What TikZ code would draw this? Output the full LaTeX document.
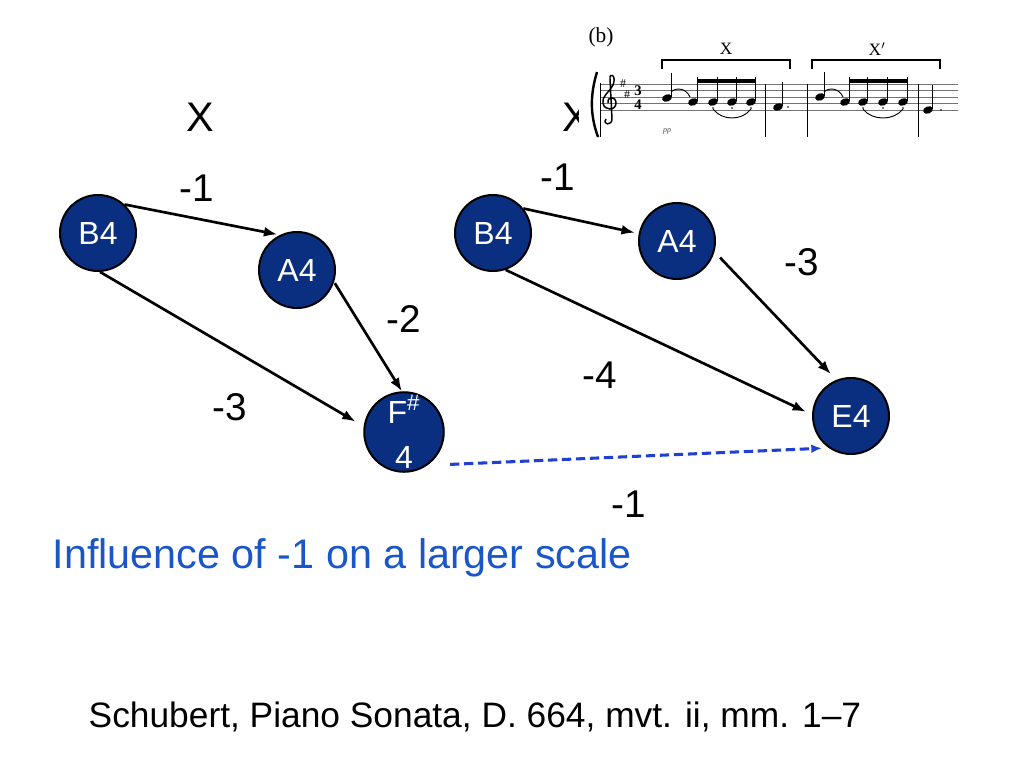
\documentclass[tikz,border=0pt]{standalone}
\usepackage{fontspec}
\setmainfont{Liberation Sans}
\newfontfamily\scorefont{Liberation Serif}
\usepackage{xcolor}
\usetikzlibrary{arrows.meta}
\definecolor{NoteBlue}{HTML}{0A2F80}
\definecolor{LinkBlue}{HTML}{2040D0}
\definecolor{TitleBlue}{HTML}{1A56C8}

\begin{document}
\begin{tikzpicture}[x=0.75pt, y=-0.75pt,
    pitch/.style={circle, fill=NoteBlue, draw=black, line width=1.5pt,
                  minimum size=57pt, inner sep=0pt, text=white,
                  font=\fontsize{24}{34}\selectfont, align=center},
    link/.style={line width=2pt, -{Latex[length=10pt,width=7.5pt]}},
    farlink/.style={LinkBlue, line width=2.3pt, dash pattern=on 7pt off 3.5pt,
                    -{Latex[length=8pt,width=6.5pt]}},
    step lbl/.style={font=\fontsize{29}{34}\selectfont},
    stafftxt/.style={font=\scorefont\fontsize{13}{15}\selectfont}]
  \useasboundingbox (0,0) rectangle (1024,768);

  % section labels
  \node[font=\fontsize{31}{36}\selectfont] (xa) at (200,117) {X};
  \node[font=\fontsize{31}{36}\selectfont] (xb) at (576,117) {X};

  % first phrase
  \node[pitch] (lB) at (98,233) {B4};
  \node[pitch] (lA) at (297,270) {A4};
  \node[pitch] (lF) at (404,432) {F\textsuperscript{\#}\\4};

  % second phrase
  \node[pitch] (rB) at (493,233) {B4};
  \node[pitch] (rA) at (677,241) {A4};
  \node[pitch] (rE) at (851,416) {E4};

  \draw[link, shorten >=2pt] (lB.47) -- (lA.116);
  \draw[link, shorten >=7pt] (lB.273) -- (lF.172);
  \draw[link, shorten <=1pt] (lA.-18) -- (lF.93);
  \draw[link, shorten >=3pt] (rB.39) -- (rA.169);
  \draw[link, shorten >=5pt] (rB.-71) -- (rE.178);
  \draw[link, shorten <=6pt, shorten >=6pt] (rA.-16) -- (rE.112);
  \draw[farlink, shorten <=17pt, shorten >=5pt] (lF.-55) -- (rE.-125);

  % interval labels
  \node[step lbl] (d1) at (197,188) {-1};
  \node[step lbl] (d2) at (404,319) {-2};
  \node[step lbl] (d3) at (230,407) {-3};
  \node[step lbl] (d4) at (558,177) {-1};
  \node[step lbl] (d5) at (802,262) {-3};
  \node[step lbl] (d6) at (600,375) {-4};
  \node[step lbl] (d7) at (629,504) {-1};

  \node[anchor=west, text=TitleBlue, font=\fontsize{31}{36}\selectfont]
    (title) at (48,558) {Influence of -1 on a larger scale};
  \node[anchor=west, font=\fontsize{26.5}{30}\selectfont]
    (src) at (84,717) {Schubert, Piano Sonata, D. 664, mvt. ii, mm. 1--7};

  % score excerpt
  \fill[white] (579,20) rectangle (962,145);
  \node[font=\scorefont\fontsize{16}{18}\selectfont] (fig) at (601,37) {(b)};
  \node[stafftxt] (bx) at (726,49) {X};
  \node[stafftxt] (bxx) at (877,49) {X$'$};
  \draw[line width=0.8pt] (662,69) -- (662,60) -- (790,60) -- (790,69);
  \draw[line width=0.8pt] (812,69) -- (812,60) -- (940,60) -- (940,69);
  \foreach \yy in {84,90.5,97,103.5,110}
    \draw[black!55, line width=0.6pt] (600,\yy) -- (958,\yy);
  \draw[line width=0.6pt] (600,83) -- (600,137);
  \draw[line width=1.8pt] (597,72) .. controls (590,95) and (590,115) .. (598,137);
  \foreach \bx in {765,807,918}
    \draw[line width=0.6pt] (\bx,84) -- (\bx,137);
  \draw[line width=1.1pt] (606,119) .. controls (602,125) and (612,126) .. (612,119)
    -- (610,79) .. controls (609,72) and (617,75) .. (613,85)
    .. controls (610,92) and (602,95) .. (603,103)
    .. controls (604,111) and (616,111) .. (616,103)
    .. controls (616,96) and (607,96) .. (608,103);
  \node[font=\scorefont\fontsize{9}{9}\selectfont] (sh1) at (623,84) {\#};
  \node[font=\scorefont\fontsize{9}{9}\selectfont] (sh2) at (627,95) {\#};
  \node[font=\scorefont\bfseries\fontsize{11}{11}\selectfont] (t3) at (638,91) {3};
  \node[font=\scorefont\bfseries\fontsize{11}{11}\selectfont] (t4) at (638,105) {4};
  \node[font=\scorefont\itshape\fontsize{6}{6}\selectfont, text=black!70] (dyn) at (667,131) {pp};
  \foreach \nx/\ny in {667/98,693/102,713/102,732/102,751/102,778/107,
                       820/97,845/102,863/102,883/102,903/102,928/110}
    \fill[rotate around={20:(\nx,\ny)}] (\nx,\ny) ellipse [x radius=3.8pt, y radius=2.7pt];
  \foreach \sx/\sy in {671/97,697/101,717/101,736/101,755/101,782/106,
                       824/96,849/101,867/101,887/101,907/101,932/109}
    \draw[line width=0.6pt] (\sx,\sy) -- (\sx,{\sy-24});
  \fill (697,78.5) rectangle (755,82.5);
  \fill (849,78.5) rectangle (907,82.5);
  \draw[line width=0.7pt] (671,92) .. controls (676,87) and (686,88) .. (690,97);
  \draw[line width=0.7pt] (824,92) .. controls (829,87) and (839,88) .. (843,97);
  \draw[line width=0.7pt] (713,109) .. controls (722,121) and (742,121) .. (751,109);
  \draw[line width=0.7pt] (863,109) .. controls (872,121) and (894,121) .. (903,109);
  \foreach \dx/\dy in {788/107,941/110,713/108,732/108,751/108,863/108,883/108,903/108}
    \fill (\dx,\dy) circle (0.7pt);
\end{tikzpicture}
\end{document}
